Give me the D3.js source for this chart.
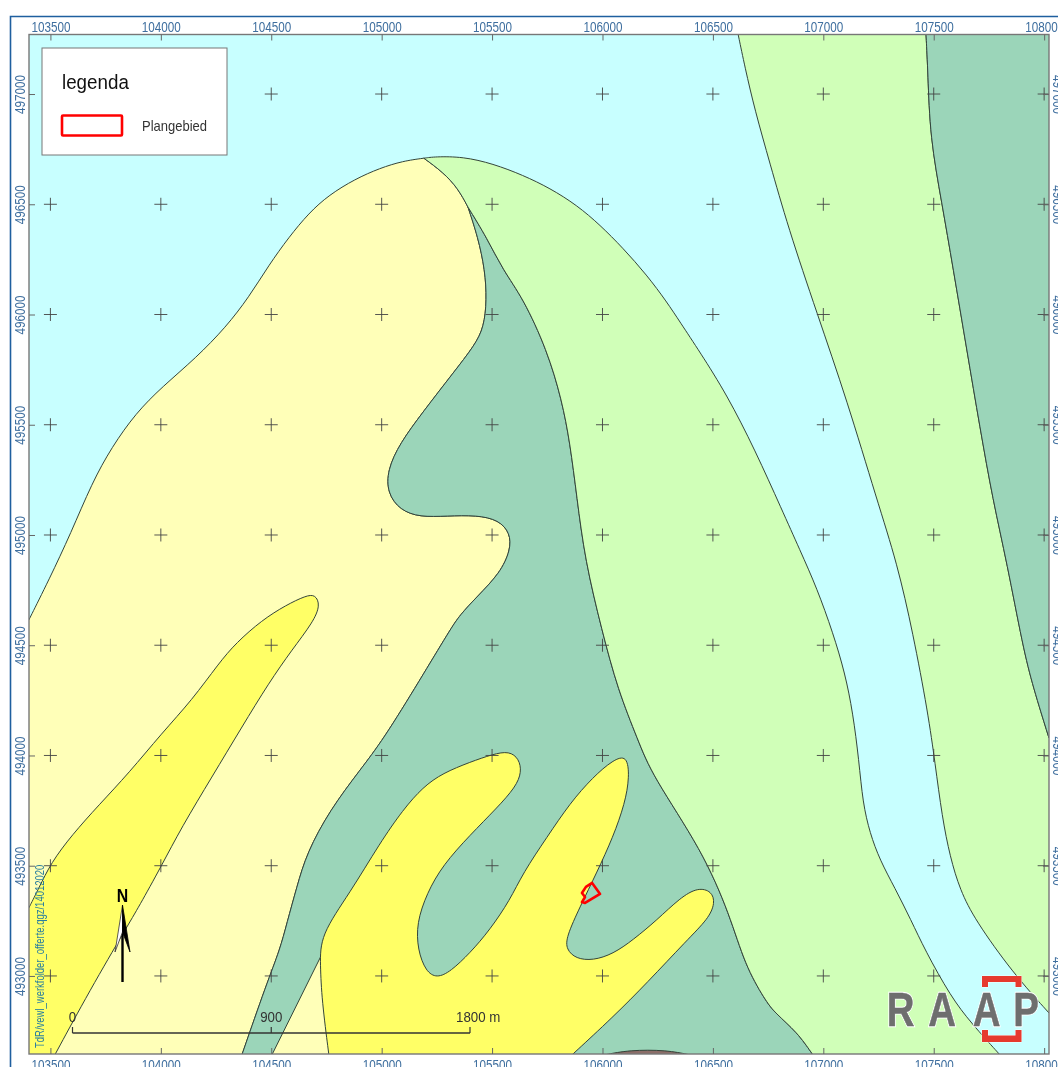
<!DOCTYPE html>
<html>
<head>
<meta charset="utf-8">
<script src="https://cdn.jsdelivr.net/npm/d3@7"></script>
<style>
  html, body { margin: 0; padding: 0; background: #fff; overflow: hidden; }
  svg { display: block; filter: blur(0.45px); }
  text { font-family: "Liberation Sans", Arial, sans-serif; }
  .axis text { fill: #3f6f9f; font-size: 11.7px; }
  .axis line { stroke: #666; stroke-width: 1; }
  .axis path { display: none; }
</style>
</head>
<body>
<div id="map"></div>
<script>
// all outlines are in map metres (RD coordinates)
const xTicks = [103500, 104000, 104500, 105000, 105500, 106000, 106500, 107000, 107500, 108000];
const yTicks = [493000, 493500, 494000, 494500, 495000, 495500, 496000, 496500, 497000];
const scaleTicks = [0, 900, 1800];
const scaleStart = 103600;

// outer edge of the pale yellow area, left side to the top
const paleTop = [[103402,494614],[103493,494796],[103593,495009],[103688,495236],[103778,495399],[103887,495553],[104005,495671],[104159,495803],[104295,495943],[104399,496079],[104489,496224],[104580,496351],[104670,496460],[104761,496542],[104879,496614],[104992,496664],[105096,496696],[105191,496709]];
// short edge between pale yellow and light green
const splitEdge = [[105191,496709],[105277,496646],[105345,496573],[105391,496487]];
// pale yellow / dark green
const greenLeft = [[105391,496487],[105436,496351],[105468,496202],[105476,496065],[105463,495943],[105422,495861],[105323,495734],[105187,495558],[105083,495417],[105026,495295],[105026,495190],[105083,495113],[105173,495081],[105295,495086],[105431,495090],[105530,495068],[105582,495009],[105584,494932],[105536,494827],[105431,494719],[105354,494637],[105309,494569],[105173,494342],[105006,494070],[104902,493934],[104766,493753],[104661,493558],[104616,493404],[104571,493240],[104539,493118],[104480,492968],[104367,492642]];
// dark green / light green
const greenRight = [[105391,496487],[105477,496347],[105549,496202],[105640,496075],[105749,495839],[105816,495612],[105853,495417],[105884,495172],[105921,494886],[105997,494569],[106070,494297],[106161,494070],[106224,493911],[106451,493571],[106577,493276],[106645,493050],[106736,492891],[106781,492832],[106881,492746],[106953,492642]];
// light green / cyan band, west side
const lightTop = [[105191,496709],[105241,496716],[105368,496716],[105504,496684],[105640,496632],[105762,496573],[105884,496496],[105989,496406],[106093,496301],[106201,496179],[106292,496056],[106351,495966],[106441,495830],[106564,495635],[106691,495385],[106813,495113],[106894,494932],[106971,494759],[107044,494555],[107098,494374],[107134,494193],[107161,493979],[107179,493784],[107211,493648],[107256,493526],[107324,493399],[107397,493254],[107460,493118],[107578,492905],[107669,492787],[107800,492642]];
// cyan band, east side
const bandEast = [[106614,497272],[106645,497122],[106690,496927],[106758,496687],[106840,496397],[106971,496007],[107107,495612],[107243,495158],[107334,494873],[107406,494555],[107474,494193],[107506,493966],[107538,493721],[107574,493540],[107619,493390],[107687,493254],[107859,493013],[108022,492832]];
// light green / dark green, north east corner
const cornerEdge = [[107465,497272],[107474,497095],[107483,496805],[107537,496505],[107587,496215],[107650,495839],[107709,495490],[107768,495158],[107832,494873],[107904,494492],[107950,494310],[108022,494079]];
const yellowWest = [[103402,493308],[103448,493399],[103502,493512],[103597,493639],[103719,493775],[103855,493920],[104005,494102],[104141,494251],[104263,494419],[104340,494510],[104458,494614],[104567,494682],[104657,494725],[104700,494730],[104722,494682],[104690,494605],[104593,494478],[104489,494329],[104367,494129],[104231,493902],[104095,493676],[104000,493494],[103900,493313],[103846,493222],[103679,492936],[103520,492642]];
const yellowCentre = [[104761,492642],[104729,492891],[104722,493050],[104722,493185],[104856,493376],[104992,493603],[105096,493753],[105187,493857],[105277,493920],[105400,493970],[105504,494006],[105578,494020],[105622,493985],[105634,493925],[105607,493857],[105522,493762],[105400,493639],[105277,493503],[105205,493376],[105158,493240],[105163,493118],[105200,493020],[105250,492990],[105312,493020],[105400,493104],[105490,493209],[105581,493344],[105640,493467],[105749,493630],[105853,493784],[105957,493902],[106048,493980],[106112,494002],[106122,493902],[106102,493784],[106048,493630],[105975,493471],[105898,493313],[105836,493177],[105836,493120],[105880,493078],[105957,493070],[106048,493100],[106138,493163],[106247,493254],[106351,493354],[106432,493402],[106495,493384],[106510,493331],[106480,493260],[106383,493163],[106201,492968],[106048,492814],[105862,492642]];
// pale wedge left of the central yellow, its upper end tucks under the yellow
const wedgeEdge = [[104745,493130],[104745,493041],[104745,492891],[104770,492642]];
const wedgeBase = [[104770,492642],[104503,492642]];
const brownPatch = [[106010,492642],[106120,492664],[106290,492664],[106396,492642]];
const planArea = [[105953,493422],[105989,493372],[105921,493331],[105907,493335],[105921,493358],[105907,493376],[105925,493404]];

const colCyan = '#c8ffff', colPale = '#ffffb8', colYellow = '#ffff66',
      colGreen = '#9bd5b9', colLight = '#d0ffb8', colBrown = '#8c6e69',
      colLine = '#33443a';

const width = 1058, height = 1067;
const left = 29, right = 1049, top_ = 34.5, bottom = 1054;

const x = d3.scaleLinear().domain([103403, 108022]).range([left, right]);
const y = d3.scaleLinear().domain([497270, 492646]).range([top_, bottom]);

const svg = d3.select('#map').append('svg').attr('width', width).attr('height', height);

svg.append('defs').append('clipPath').attr('id', 'frame')
  .append('rect').attr('x', left).attr('y', top_).attr('width', right - left).attr('height', bottom - top_);

// outer blue page border
svg.append('path')
  .attr('d', `M10.5,${height}V16.5H${width}`)
  .attr('fill', 'none').attr('stroke', '#1f5f9f').attr('stroke-width', 1.6);

const line = d3.line().x(d => x(d[0])).y(d => y(d[1])).curve(d3.curveBasis);
const straight = d3.line().x(d => x(d[0])).y(d => y(d[1]));
const rev = a => a.slice().reverse();
// boundaries of 4+ points are smoothed, shorter pieces just close the polygon along the frame
function shape() {
  return Array.from(arguments).map((p, i) => {
    const s = p.length > 3 ? line(p) : straight(p);
    return i ? s.replace(/^M/, 'L') : s;
  }).join('') + 'Z';
}

const g = svg.append('g').attr('clip-path', 'url(#frame)');
g.append('rect').attr('x', left).attr('y', top_).attr('width', right - left).attr('height', bottom - top_).attr('fill', colCyan);

const areas = [
  { fill: colPale, d: shape(paleTop, splitEdge, greenLeft, [[103395,492642],[103395,494614]]) },
  { fill: colGreen, d: shape(greenRight, rev(greenLeft)) },
  { fill: colPale, d: shape(wedgeEdge, wedgeBase) },
  { fill: colLight, d: shape(lightTop, rev(greenRight), rev(splitEdge)) },
  { fill: colLight, d: shape(bandEast, [[108030,492832],[108030,494079]], rev(cornerEdge)) },
  { fill: colGreen, d: shape(cornerEdge, [[108030,494079],[108030,497280],[107465,497280]]) },
  { fill: colYellow, d: shape(yellowWest, [[103395,492642],[103395,493308]]) },
  { fill: colYellow, d: shape(yellowCentre) },
  { fill: colBrown, d: shape(brownPatch) }
];

g.selectAll('path.area').data(areas).enter().append('path')
  .attr('class', 'area')
  .attr('d', d => d.d)
  .attr('fill', d => d.fill)
  .attr('stroke', colLine)
  .attr('stroke-width', 1)
  .attr('stroke-linejoin', 'round');

// grid crosses
const crossSize = 6.5;
const crossing = d3.cross(xTicks, yTicks);
g.selectAll('path.cross').data(crossing).enter().append('path')
  .attr('class', 'cross')
  .attr('d', d => `M${x(d[0]) - crossSize},${y(d[1])}h${crossSize * 2}M${x(d[0])},${y(d[1]) - crossSize}v${crossSize * 2}`)
  .attr('stroke', '#444').attr('stroke-width', 0.9).attr('fill', 'none');

// plan area
g.append('path')
  .attr('d', straight(planArea) + 'Z')
  .attr('fill', 'none').attr('stroke', '#f00').attr('stroke-width', 2.6).attr('stroke-linejoin', 'round');

// frame and axes
svg.append('rect').attr('x', left).attr('y', top_).attr('width', right - left).attr('height', bottom - top_)
  .attr('fill', 'none').attr('stroke', '#777').attr('stroke-width', 1.4);

const fmt = d3.format('d');
const stretch = 1.2; // the source labels are narrow and tall
svg.append('g').attr('class', 'axis').attr('transform', `translate(0,${top_})`)
  .call(d3.axisTop(x).tickValues(xTicks).tickFormat(fmt).tickSize(-6).tickPadding(2))
  .selectAll('text').attr('transform', `scale(1,${stretch})`);
svg.append('g').attr('class', 'axis').attr('transform', `translate(0,${bottom})`)
  .call(d3.axisBottom(x).tickValues(xTicks).tickFormat(fmt).tickSize(-6))
  .selectAll('text').attr('y', 13.5).attr('dy', 0).attr('transform', `scale(1,${stretch})`);

const yLeft = svg.append('g').attr('class', 'axis').attr('transform', `translate(${left},0)`)
  .call(d3.axisLeft(y).tickValues(yTicks).tickFormat(fmt).tickSize(-6));
yLeft.selectAll('text')
  .attr('x', null).attr('dy', null)
  .attr('text-anchor', 'middle')
  .attr('transform', `translate(-4,0) rotate(-90) scale(1,${stretch})`);

const yRight = svg.append('g').attr('class', 'axis').attr('transform', `translate(${right},0)`)
  .call(d3.axisRight(y).tickValues(yTicks).tickFormat(fmt).tickSize(-6));
yRight.selectAll('text')
  .attr('x', null).attr('dy', null)
  .attr('text-anchor', 'middle')
  .attr('transform', `translate(4,0) rotate(90) scale(1,${stretch})`);

// legend
const legend = svg.append('g');
legend.append('rect').attr('x', 42).attr('y', 48).attr('width', 185).attr('height', 107)
  .attr('fill', '#fff').attr('stroke', '#777').attr('stroke-width', 1);
legend.append('text').attr('transform', 'translate(62,89) scale(1,1.1)').attr('font-size', 18.8).attr('fill', '#111').text('legenda');
legend.append('rect').attr('x', 62).attr('y', 115.5).attr('width', 60).attr('height', 20).attr('rx', 1)
  .attr('fill', '#fff').attr('stroke', '#f00').attr('stroke-width', 2.6);
legend.append('text').attr('transform', 'translate(142,131) scale(1,1.1)').attr('font-size', 13).attr('fill', '#333').text('Plangebied');

// north arrow
const north = svg.append('g');
north.append('line').attr('x1', 122.5).attr('x2', 122.5).attr('y1', 982).attr('y2', 925)
  .attr('stroke', '#000').attr('stroke-width', 2.4);
north.append('path').attr('d', 'M122.5,905L115,952L122.5,932Z').attr('fill', '#fff').attr('stroke', '#333').attr('stroke-width', 0.8);
north.append('path').attr('d', 'M122.5,905L130,952L122.5,932Z').attr('fill', '#000').attr('stroke', '#000').attr('stroke-width', 0.8);
north.append('text').attr('transform', 'translate(122.5,902) scale(0.88,1.05)').attr('text-anchor', 'middle')
  .attr('font-size', 18).attr('font-weight', 700).attr('font-family', 'DejaVu Sans').attr('fill', '#000').text('N');

// file path along the left edge
svg.append('text')
  .attr('transform', 'translate(44,1048) rotate(-90) scale(1,1.3)')
  .attr('font-size', 9.5).attr('fill', '#2a7f9f')
  .text('TdR/vewl_werkfolder_offerte.qgz/14012020');

// scale bar
const barY = 1033;
const barX = d => x(scaleStart + d);
const bar = svg.append('g');
bar.append('line').attr('x1', barX(0)).attr('x2', barX(1800)).attr('y1', barY).attr('y2', barY)
  .attr('stroke', '#333').attr('stroke-width', 1.4);
bar.selectAll('line.tick').data(scaleTicks).enter().append('line').attr('class', 'tick')
  .attr('x1', d => barX(d)).attr('x2', d => barX(d)).attr('y1', barY).attr('y2', barY - 6)
  .attr('stroke', '#333').attr('stroke-width', 1.2);
bar.selectAll('text').data(scaleTicks).enter().append('text')
  .attr('transform', d => `translate(${barX(d) - (d === 1800 ? 14 : 0)},${barY - 11}) scale(1,1.15)`)
  .attr('text-anchor', d => d === 1800 ? 'start' : 'middle')
  .attr('font-size', 13.3).attr('fill', '#333')
  .text(d => d === 1800 ? d + ' m' : d);

// RAAP logo
const logo = svg.append('g');
const letters = [['R', 900.5], ['A', 942], ['A', 986.5], ['P', 1026]];
const drawLetters = (stroke, sw) => logo.append('g').selectAll('text').data(letters).enter().append('text')
  .attr('transform', d => `translate(${d[1]},1026) scale(0.8,1)`)
  .attr('text-anchor', 'middle')
  .attr('font-family', 'Roboto').attr('font-weight', 900)
  .attr('font-size', 48)
  .attr('fill', '#6e6e6e').attr('stroke', stroke).attr('stroke-width', sw)
  .text(d => d[0]);
drawLetters('#fff', 2.4);
drawLetters('#6e6e6e', 0.5);
logo.append('path').attr('d', 'M982,987V976H1021.5V987H1015.5V982H988V987Z M982,1030V1042H1021.5V1030H1015.5V1035.5H988V1030Z')
  .attr('fill', '#e63a2e').attr('stroke', '#fff').attr('stroke-width', 0.8).attr('paint-order', 'stroke');
</script>
</body>
</html>
